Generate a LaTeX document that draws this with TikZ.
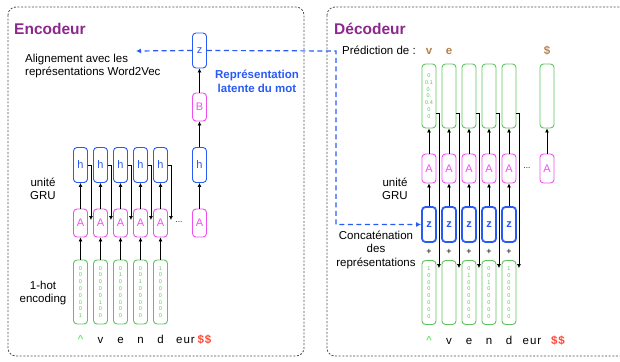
\documentclass[tikz,border=0pt]{standalone}
\usepackage{fontspec}
\setmainfont{Liberation Sans}
\usetikzlibrary{arrows.meta, calc}
\definecolor{hblue}{RGB}{40,90,245}
\definecolor{apink}{RGB}{238,80,238}
\definecolor{hotgreen}{RGB}{95,195,95}
\definecolor{title}{RGB}{140,40,140}
\definecolor{pred}{RGB}{180,128,78}
\definecolor{dollar}{RGB}{255,70,50}
\definecolor{start}{RGB}{60,230,60}
\definecolor{frame}{RGB}{80,80,80}

\begin{document}
\begin{tikzpicture}[x=1pt, y=-1pt, font=\fontsize{11.5}{13.5}\selectfont,
  hbox/.style={rounded corners=3.5pt, draw=hblue, line width=0.9pt, text=hblue, minimum width=14pt, minimum height=35pt, inner sep=0pt, font=\fontsize{11}{11}\selectfont},
  abox/.style={rounded corners=3.5pt, draw=apink, line width=0.9pt, text=apink, minimum width=14pt, minimum height=28pt, inner sep=0pt, font=\fontsize{11}{11}\selectfont},
  hot/.style={rounded corners=3.5pt, draw=hotgreen, line width=0.9pt, text=hotgreen, minimum width=14pt, minimum height=64pt, inner sep=0pt, align=center, font=\fontsize{5.5}{6.8}\selectfont},
  zbox/.style={hbox, line width=1.8pt, font=\fontsize{11}{11}\selectfont\bfseries},
  lbl/.style={inner sep=0pt, align=center},
  ltr/.style={inner sep=0pt, anchor=base},
  ttl/.style={inner sep=0pt, anchor=base west, font=\fontsize{15.5}{18}\selectfont\bfseries, text=title},
  ar/.style={-{Latex[length=4pt,width=4pt]}, line width=0.7pt},
  lat/.style={-{Latex[length=5pt,width=5pt]}, dash pattern=on 5pt off 3.5pt, hblue, line width=1.2pt},
  frm/.style={rounded corners=8pt, draw=frame, dash pattern=on 2pt off 1.6pt, line width=0.8pt}]

\clip (0,0) rectangle (620,361);

% the two panels
\draw[frm] (8,7) rectangle (304,356);
\draw[frm] (327,7) rectangle (650,356);
\node[ttl] (enc) at (14,35) {Encodeur};
\node[ttl] (dec) at (334,35) {Décodeur};

% encoder
\foreach \x/\v [count=\i] in {80.5/{0\\0\\0\\0\\0\\0\\0\\1}, 100.5/{0\\0\\0\\0\\0\\1\\0\\0}, 120.5/{0\\1\\0\\0\\0\\0\\0\\0}, 140.5/{0\\0\\1\\0\\0\\0\\0\\0}, 160.5/{1\\0\\0\\0\\0\\0\\0\\0}} {
  \node[hot] (e\i) at (\x,292) {\v};
  \node[abox] (a\i) at (\x,223) {A};
  \node[hbox] (h\i) at (\x,165) {h};
  \draw[ar] (e\i) -- (a\i);
  \draw[ar] (a\i) -- (h\i);
  \draw[ar] (h\i.east) -| ([xshift=3pt,yshift=3pt]a\i.east);
}
\node[abox] (an) at (199.5,223) {A};
\node[hbox] (hn) at (199.5,165) {h};
\node[abox] (bb) at (199.5,107) {B};
\node[hbox] (z) at (199.5,50.5) {z};
\node[lbl, font=\fontsize{8}{8}\selectfont] (edots) at (179,222) {...};
\draw[ar] (an) -- (hn);
\draw[ar] (hn) -- (bb);
\draw[ar] (bb) -- (z);

\node[lbl] (egru) at (43,189) {unité\\GRU};
\node[lbl] (ehot) at (43,293) {1-hot\\encoding};
\node[lbl, align=left, anchor=west] (w2v) at (25,66) {Alignement avec les\\représentations Word2Vec};
\node[lbl, text=hblue, font=\fontsize{11.5}{14}\selectfont\bfseries] (latent) at (257,81) {Représentation\\latente du mot};

\node[ltr, text=start] (el1) at (80.5,343) {\textasciicircum};
\foreach \x/\c [count=\i from 2] in {100.5/v, 120.5/e, 140.5/n, 160.5/d}
  \node[ltr] (el\i) at (\x,343) {\c};
\node[ltr] (eeur) at (185.5,343) {e\kern1pt u\kern1pt r};
\node[ltr, text=dollar, font=\fontsize{11.5}{13.5}\selectfont\bfseries] (edol) at (204.5,343) {\$\kern1pt\$};

% decoder
\foreach \x/\v/\w [count=\i] in {429/{1\\0\\0\\0\\0\\0\\0\\0}/{0\\0.1\\0.\\0.\\0.4\\0\\0}, 449/{}/{}, 469/{0\\1\\0\\0\\0\\0\\0\\0}/{}, 489/{0\\0\\1\\0\\0\\0\\0\\0}/{}, 509/{1\\0\\0\\0\\0\\0\\0\\0}/{}} {
  \node[hot] (db\i) at (\x,292.5) {\v};
  \node[zbox] (dz\i) at (\x,224.5) {z};
  \node[abox, minimum height=29pt] (da\i) at (\x,168.5) {A};
  \node[hot] (p\i) at (\x,96) {\w};
  \node[lbl, font=\fontsize{9}{9}\selectfont] (pl\i) at (\x,252) {+};
  \draw[ar] (dz\i) -- (da\i);
  \draw[ar] (da\i) -- (p\i);
  \draw[ar] ([yshift=-17pt]p\i.east) -| ([xshift=2.5pt,yshift=-8pt]db\i.north east);
}
\node[abox, minimum height=29pt] (dan) at (547,168.5) {A};
\node[hot] (pn) at (547,96) {};
\node[lbl, font=\fontsize{8}{8}\selectfont] (ddots) at (527,168) {...};
\draw[ar] (dan) -- (pn);

\node[lbl, anchor=base west] (pred) at (342,55) {Prédiction de :};
\node[ltr, text=pred, font=\fontsize{11.5}{13.5}\selectfont\bfseries] (pv) at (429,55) {v};
\node[ltr, text=pred, font=\fontsize{11.5}{13.5}\selectfont\bfseries] (pe) at (449,55) {e};
\node[ltr, text=pred, font=\fontsize{11.5}{13.5}\selectfont\bfseries] (pd) at (547,55) {\$};

\node[lbl] (dgru) at (395,189) {unité\\GRU};
\node[lbl] (concat) at (376,249.5) {Concaténation\\des\\représentations};

\node[ltr, text=start] (dl1) at (429,344) {\textasciicircum};
\foreach \x/\c [count=\i from 2] in {449/v, 469/e, 489/n, 509/d}
  \node[ltr] (dl\i) at (\x,344) {\c};
\node[ltr] (deur) at (532,344) {e\kern1pt u\kern1pt r};
\node[ltr, text=dollar, font=\fontsize{11.5}{13.5}\selectfont\bfseries] (ddol) at (558,344) {\$\kern1pt\$};

% latent vector, shared with the decoder
\coordinate (w2vtip) at (136,51);
\coordinate (turn) at (336,51);
\draw[lat] (z.west) -- (w2vtip);
\draw[lat] (z.east) -- (turn) |- (dz1.west);
\end{tikzpicture}
\end{document}
